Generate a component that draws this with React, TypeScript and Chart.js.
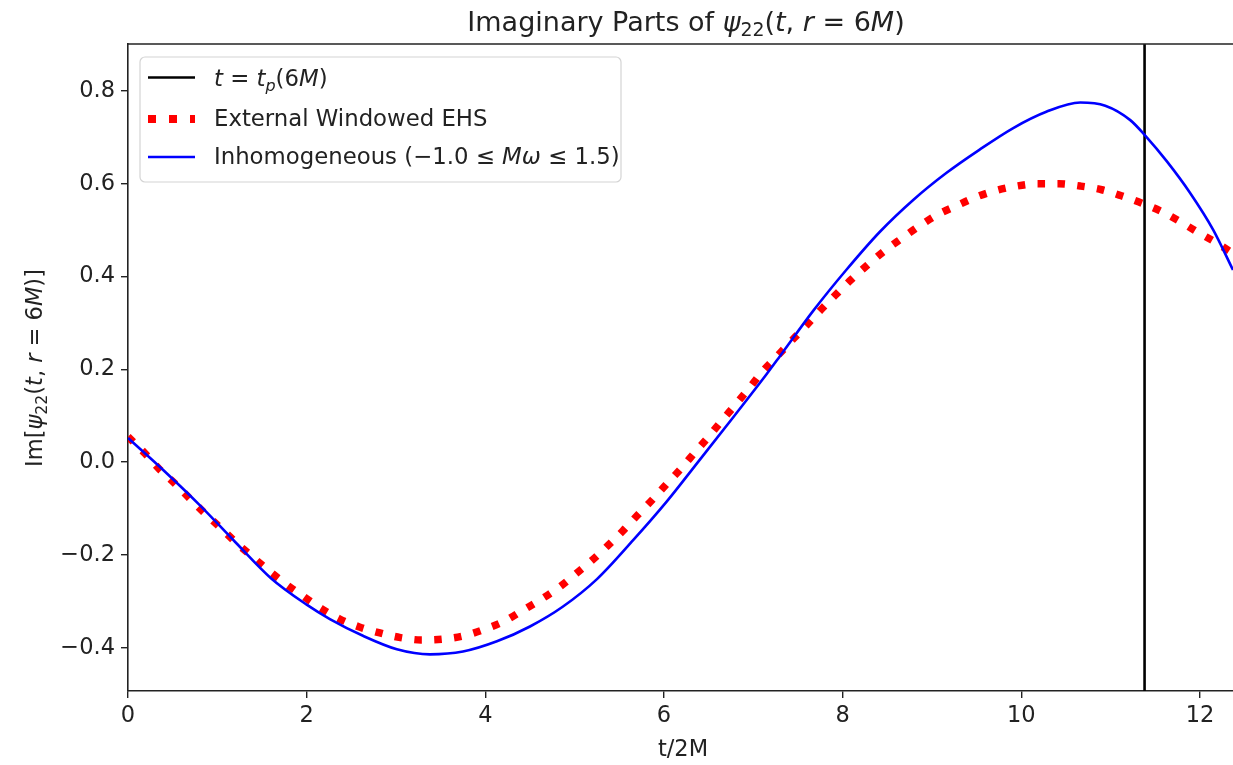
import React, { useEffect, useRef } from "react";
import { Chart, registerables } from "chart.js";

Chart.register(...registerables);

// ---- data ----
const tpValue = 11.38;

const inhomT = [0.0, 0.4, 0.8, 1.2, 1.6, 2.0, 2.26, 2.63, 3.01, 3.38, 3.75, 4.13, 4.5, 4.87, 5.25, 5.66, 6.03, 6.4, 6.78, 7.15, 7.3, 7.67, 8.04, 8.42, 8.79, 9.16, 9.53, 9.91, 10.28, 10.66, 10.94, 11.22, 11.39, 11.63, 11.89, 12.15, 12.37];
const inhomV = [0.052, -0.018, -0.092, -0.172, -0.25, -0.307, -0.338, -0.374, -0.403, -0.414, -0.408, -0.386, -0.354, -0.311, -0.252, -0.167, -0.085, 0.005, 0.098, 0.19, 0.229, 0.326, 0.414, 0.497, 0.565, 0.623, 0.673, 0.72, 0.755, 0.775, 0.768, 0.737, 0.703, 0.648, 0.58, 0.5, 0.414];

const ehsT = [0.0, 0.19, 0.35, 0.53, 0.7, 0.87, 1.04, 1.22, 1.4, 1.59, 1.77, 1.97, 2.16, 2.37, 2.59, 2.82, 3.05, 3.28, 3.53, 3.76, 3.99, 4.22, 4.42, 4.63, 4.83, 5.01, 5.19, 5.37, 5.54, 5.7, 5.87, 6.03, 6.19, 6.35, 6.5, 6.65, 6.81, 6.96, 7.11, 7.27, 7.43, 7.6, 7.76, 7.93, 8.1, 8.28, 8.46, 8.66, 8.86, 9.06, 9.27, 9.49, 9.71, 9.95, 10.18, 10.42, 10.66, 10.9, 11.12, 11.35, 11.57, 11.78, 11.98, 12.19, 12.37];
const ehsV = [0.055, 0.019, -0.015, -0.047, -0.08, -0.112, -0.142, -0.175, -0.205, -0.236, -0.263, -0.29, -0.315, -0.338, -0.355, -0.368, -0.378, -0.383, -0.381, -0.374, -0.36, -0.342, -0.319, -0.295, -0.269, -0.241, -0.212, -0.18, -0.148, -0.115, -0.081, -0.047, -0.014, 0.022, 0.055, 0.09, 0.126, 0.161, 0.197, 0.229, 0.262, 0.296, 0.329, 0.362, 0.394, 0.425, 0.454, 0.482, 0.509, 0.533, 0.552, 0.571, 0.585, 0.595, 0.6, 0.6, 0.595, 0.587, 0.574, 0.558, 0.54, 0.518, 0.495, 0.472, 0.45];

const xTicks = [0, 2, 4, 6, 8, 10, 12];
const yTicks = [-0.4, -0.2, 0.0, 0.2, 0.4, 0.6, 0.8];
const xLimits = [0, 12.37];
const yLimits = [-0.493, 0.901];

const FONT = "'DejaVu Sans', 'Noto Sans', sans-serif";

type Seg = { t: string; i?: boolean; sub?: boolean };

const titleSegs: Seg[] = [
  { t: "Imaginary Parts of " },
  { t: "ψ", i: true },
  { t: "22", sub: true },
  { t: "(" },
  { t: "t", i: true },
  { t: ", " },
  { t: "r", i: true },
  { t: " = 6" },
  { t: "M", i: true },
  { t: ")" },
];
const yTitleSegs: Seg[] = [
  { t: "Im[" },
  { t: "ψ", i: true },
  { t: "22", sub: true },
  { t: "(" },
  { t: "t", i: true },
  { t: ", " },
  { t: "r", i: true },
  { t: " = 6" },
  { t: "M", i: true },
  { t: ")]" },
];
const xTitleSegs: Seg[] = [{ t: "t/2M" }];
const legendRows: { segs: Seg[]; color: string; width: number; dash: number[] }[] = [
  {
    segs: [
      { t: "t", i: true },
      { t: " = " },
      { t: "t", i: true },
      { t: "p", i: true, sub: true },
      { t: "(6" },
      { t: "M", i: true },
      { t: ")" },
    ],
    color: "#000000",
    width: 2.6,
    dash: [],
  },
  { segs: [{ t: "External Windowed EHS" }], color: "#ff0000", width: 8, dash: [8, 13] },
  {
    segs: [
      { t: "Inhomogeneous (−1.0 ≤ " },
      { t: "Mω", i: true },
      { t: " ≤ 1.5)" },
    ],
    color: "#0000ff",
    width: 2.6,
    dash: [],
  },
];

function segFont(s: Seg, size: number) {
  const sz = s.sub ? size * 0.7 : size;
  return `${s.i ? "italic " : ""}${sz}px ${FONT}`;
}
function measureSegs(ctx: CanvasRenderingContext2D, segs: Seg[], size: number) {
  let w = 0;
  for (const s of segs) {
    ctx.font = segFont(s, size);
    w += ctx.measureText(s.t).width;
  }
  return w;
}
function drawSegs(
  ctx: CanvasRenderingContext2D,
  segs: Seg[],
  x: number,
  baseline: number,
  size: number,
  align: "left" | "center"
) {
  const w = measureSegs(ctx, segs, size);
  let cx = align === "center" ? x - w / 2 : x;
  ctx.textBaseline = "alphabetic";
  ctx.textAlign = "left";
  for (const s of segs) {
    ctx.font = segFont(s, size);
    const yy = s.sub ? baseline + size * 0.2 : baseline;
    ctx.fillText(s.t, cx, yy);
    cx += ctx.measureText(s.t).width;
  }
}

const decorPlugin = {
  id: "decor",
  afterDatasetsDraw(chart: any) {
    const ctx: CanvasRenderingContext2D = chart.ctx;
    const area = chart.chartArea;
    ctx.save();
    // top spine
    ctx.strokeStyle = "#222222";
    ctx.lineWidth = 1.6;
    ctx.beginPath();
    ctx.moveTo(area.left - 0.8, area.top);
    ctx.lineTo(area.right, area.top);
    ctx.stroke();

    ctx.fillStyle = "#222222";
    // title
    drawSegs(ctx, titleSegs, 686, 31, 27, "center");
    // x title
    drawSegs(ctx, xTitleSegs, 683, 756, 22.5, "center");
    // y title (rotated)
    ctx.save();
    ctx.translate(42, 368);
    ctx.rotate(-Math.PI / 2);
    drawSegs(ctx, yTitleSegs, 0, 0, 22.5, "center");
    ctx.restore();

    // legend
    const bx = 140, by = 57, bw = 481, bh = 125;
    ctx.fillStyle = "rgba(255,255,255,0.85)";
    ctx.strokeStyle = "#d4d4d4";
    ctx.lineWidth = 1.2;
    ctx.beginPath();
    (ctx as any).roundRect(bx, by, bw, bh, 5);
    ctx.fill();
    ctx.stroke();
    const baselines = [86, 126, 164];
    const lineYs = [77.5, 119, 157];
    legendRows.forEach((row, i) => {
      ctx.strokeStyle = row.color;
      ctx.lineWidth = row.width;
      ctx.lineCap = "butt";
      ctx.setLineDash(row.dash);
      ctx.beginPath();
      ctx.moveTo(148, lineYs[i]);
      ctx.lineTo(195, lineYs[i]);
      ctx.stroke();
      ctx.setLineDash([]);
      ctx.fillStyle = "#222222";
      drawSegs(ctx, row.segs, 214, baselines[i], 22.8, "left");
    });
    ctx.restore();
  },
};

export default function App() {
  const ref = useRef<HTMLCanvasElement | null>(null);
  useEffect(() => {
    if (!ref.current) return;
    const chart = new Chart(ref.current, {
      type: "line",
      data: {
        datasets: [
          {
            label: "Inhomogeneous",
            data: inhomT.map((t, i) => ({ x: t, y: inhomV[i] })),
            borderColor: "#0000ff",
            borderWidth: 2.6,
            pointRadius: 0,
            cubicInterpolationMode: "monotone",
            order: 1,
          },
          {
            label: "External Windowed EHS",
            data: ehsT.map((t, i) => ({ x: t, y: ehsV[i] })),
            borderColor: "#ff0000",
            borderWidth: 7.5,
            borderDash: [7.5, 12.4],
            borderCapStyle: "butt",
            pointRadius: 0,
            cubicInterpolationMode: "monotone",
            order: 2,
          },
          {
            label: "t = tp(6M)",
            data: [
              { x: tpValue, y: -1 },
              { x: tpValue, y: 2 },
            ],
            borderColor: "#000000",
            borderWidth: 2.6,
            pointRadius: 0,
            order: 3,
          },
        ],
      } as any,
      options: {
        animation: false,
        responsive: false,
        maintainAspectRatio: false,
        layout: { padding: { top: 44, left: 0, right: 0, bottom: 0 } },
        plugins: { legend: { display: false }, tooltip: { enabled: false }, title: { display: false } },
        scales: {
          x: {
            type: "linear",
            min: xLimits[0],
            max: xLimits[1],
            afterBuildTicks: (s: any) => {
              s.ticks = xTicks.map((v) => ({ value: v }));
            },
            afterFit: (s: any) => {
              s.height = 74;
            },
            grid: { display: true, drawOnChartArea: false, drawTicks: true, tickLength: 7, color: "#222222", lineWidth: 1.4 },
            border: { display: true, color: "#222222", width: 1.6 },
            ticks: {
              font: { family: FONT, size: 22.5 },
              color: "#222222",
              padding: 5,
              maxRotation: 0,
              autoSkip: false,
              callback: (v: any) => String(v),
            },
          },
          y: {
            type: "linear",
            min: yLimits[0],
            max: yLimits[1],
            afterBuildTicks: (s: any) => {
              s.ticks = yTicks.map((v) => ({ value: v }));
            },
            afterFit: (s: any) => {
              s.width = 128;
            },
            grid: { display: true, drawOnChartArea: false, drawTicks: true, tickLength: 7, color: "#222222", lineWidth: 1.4 },
            border: { display: true, color: "#222222", width: 1.6 },
            ticks: {
              font: { family: FONT, size: 22.5 },
              color: "#222222",
              padding: 6,
              autoSkip: false,
              callback: (v: any) => Number(v).toFixed(1).replace("-", "−"),
            },
          },
        },
      } as any,
      plugins: [decorPlugin],
    });
    return () => chart.destroy();
  }, []);
  return (
    <div style={{ position: "absolute", left: 0, top: 0, width: 1233, height: 765, background: "#ffffff" }}>
      <canvas ref={ref} width={1233} height={765} style={{ display: "block" }} />
    </div>
  );
}
